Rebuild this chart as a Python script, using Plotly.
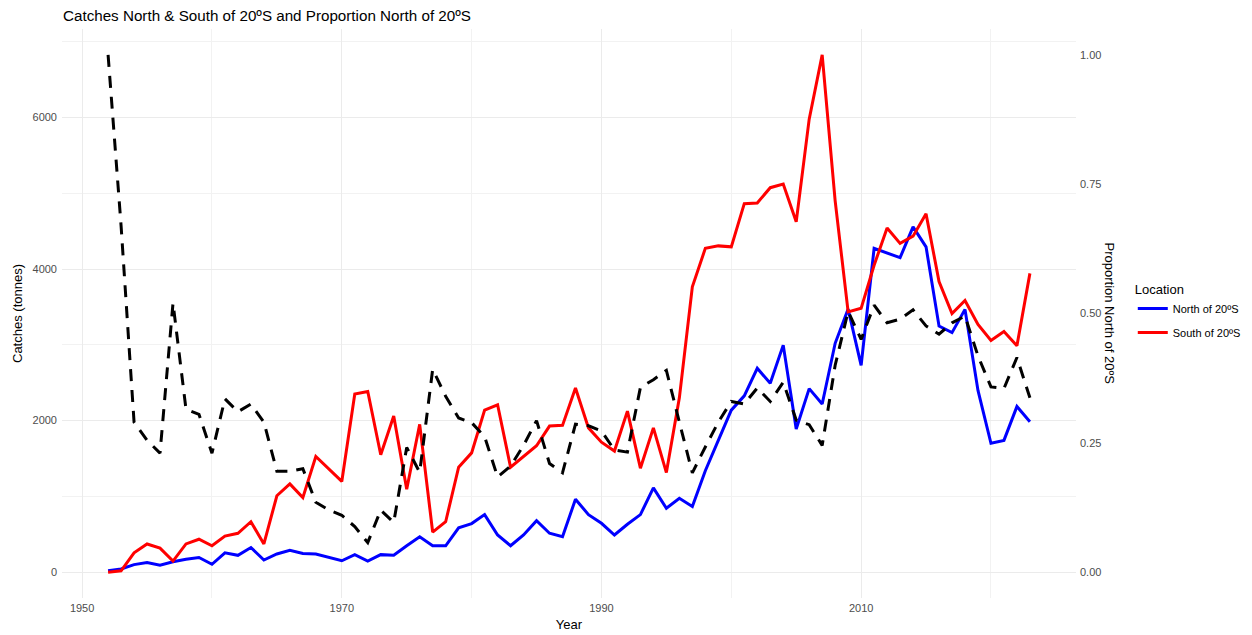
import plotly.graph_objects as go

years = [1952, 1953, 1954, 1955, 1956, 1957, 1958, 1959, 1960, 1961, 1962, 1963,
         1964, 1965, 1966, 1967, 1968, 1969, 1970, 1971, 1972, 1973, 1974, 1975,
         1976, 1977, 1978, 1979, 1980, 1981, 1982, 1983, 1984, 1985, 1986, 1987,
         1988, 1989, 1990, 1991, 1992, 1993, 1994, 1995, 1996, 1997, 1998, 1999,
         2000, 2001, 2002, 2003, 2004, 2005, 2006, 2007, 2008, 2009, 2010, 2011,
         2012, 2013, 2014, 2015, 2016, 2017, 2018, 2019, 2020, 2021, 2022, 2023]

north = [18, 42, 99, 127, 90, 137, 170, 193, 104, 255, 222, 325,
         160, 240, 288, 245, 240, 193, 150, 231, 146, 231, 222, 348,
         467, 348, 348, 584, 641, 759, 490, 348, 490, 678, 513, 467,
         962, 759, 645, 490, 632, 759, 1112, 843, 975, 867, 1338, 1739,
         2138, 2327, 2690, 2492, 2996, 1889, 2422, 2219, 3020, 3472, 2728, 4273,
         4212, 4150, 4557, 4293, 3247, 3161, 3468, 2398, 1701, 1739, 2186, 1984]

south = [0, 18, 255, 372, 316, 146, 372, 434, 348, 476, 513, 665,
         372, 1008, 1164, 984, 1526, 1362, 1197, 2351, 2384, 1550, 2060, 1094,
         1951, 528, 665, 1385, 1574, 2138, 2209, 1385, 1526, 1668, 1928, 1937,
         2431, 1904, 1715, 1598, 2125, 1371, 1904, 1314, 2300, 3766, 4273, 4306,
         4293, 4863, 4872, 5074, 5121, 4623, 5979, 6827, 4900, 3435, 3482, 4050,
         4542, 4339, 4434, 4731, 3835, 3412, 3586, 3270, 3058, 3176, 2987, 3943]

proportion = [1.00, 0.67, 0.29, 0.255, 0.23, 0.52, 0.315, 0.305, 0.23, 0.335, 0.31, 0.325,
              0.29, 0.195, 0.195, 0.20, 0.135, 0.12, 0.11, 0.088, 0.057, 0.12, 0.096, 0.241,
              0.193, 0.392, 0.34, 0.298, 0.289, 0.262, 0.184, 0.205, 0.245, 0.293, 0.21, 0.192,
              0.286, 0.283, 0.273, 0.236, 0.232, 0.357, 0.372, 0.39, 0.29, 0.192, 0.242, 0.29,
              0.33, 0.325, 0.356, 0.33, 0.367, 0.294, 0.285, 0.245, 0.40, 0.504, 0.45, 0.516,
              0.482, 0.489, 0.507, 0.476, 0.46, 0.482, 0.495, 0.418, 0.358, 0.355, 0.415, 0.337]

FONT = "Liberation Sans, Arial, sans-serif"
GRID = "#EBEBEB"
TICK = "#4D4D4D"

fig = go.Figure()
fig.add_trace(go.Scatter(x=years, y=north, mode="lines", name="North of 20ºS",
                         legendgroup="n", line=dict(color="blue", width=3), yaxis="y"))
fig.add_trace(go.Scatter(x=years, y=south, mode="lines", name="South of 20ºS",
                         legendgroup="s", line=dict(color="red", width=3), yaxis="y"))
fig.add_trace(go.Scatter(x=years, y=proportion, mode="lines", showlegend=False,
                         line=dict(color="black", width=3, dash="12px,9px"), yaxis="y2"))

ymax = max(south)
pad = 0.05 * ymax

# the page body adds an 8px offset, compensated in the margins
fig.update_layout(
    template="none",
    width=1252, height=635,
    paper_bgcolor="white", plot_bgcolor="white",
    margin=dict(l=54, r=184, t=21, b=45, autoexpand=False),
    font=dict(family=FONT, color="black"),
    title=dict(text="Catches North & South of 20ºS and Proportion North of 20ºS",
               x=55 / 1252, xref="container", xanchor="left", y=1 - 2.5 / 635, yref="container",
               yanchor="top",
               font=dict(size=15.2, color="black", family=FONT)),
    xaxis=dict(range=[1948.45, 2026.55], tick0=1950, dtick=20, showgrid=True,
               gridcolor=GRID, gridwidth=1.1, zeroline=False, showline=False, automargin=False,
               ticks="", tickfont=dict(size=11, color=TICK), ticklabelstandoff=2,
               minor=dict(dtick=10, tick0=1950, showgrid=True, gridcolor="#F2F2F2", gridwidth=0.6),
               title=dict(text="Year", font=dict(size=13, color="black"), standoff=6)),
    yaxis=dict(range=[-pad, ymax + pad], tick0=0, dtick=2000, showgrid=True,
               gridcolor=GRID, gridwidth=1.1, zeroline=False, showline=False, automargin=False,
               ticks="", tickfont=dict(size=11, color=TICK), ticklabelstandoff=4,
               minor=dict(dtick=1000, tick0=0, showgrid=True, gridcolor="#F2F2F2", gridwidth=0.6),
               title=dict(text="Catches (tonnes)", font=dict(size=13, color="black"), standoff=6)),
    yaxis2=dict(range=[-0.05, 1.05], overlaying="y", side="right", tick0=0, dtick=0.25,
                tickformat=".2f", showgrid=False, zeroline=False, showline=False, automargin=False,
                ticks="", tickfont=dict(size=11, color=TICK), ticklabelstandoff=3),
    legend=dict(x=1.056, xanchor="left", y=0.564, yanchor="top",
                title=dict(text="Location", font=dict(size=13, color="black")),
                font=dict(size=11, color="black"), itemwidth=30, tracegroupgap=5,
                bgcolor="rgba(0,0,0,0)"),
    annotations=[dict(text="Proportion North of 20ºS", xref="paper", yref="paper",
                      x=1.0335, y=0.5, xanchor="center", yanchor="middle",
                      textangle=90, showarrow=False,
                      font=dict(size=13, color="black", family=FONT))],
)

fig.write_html("out.html")
